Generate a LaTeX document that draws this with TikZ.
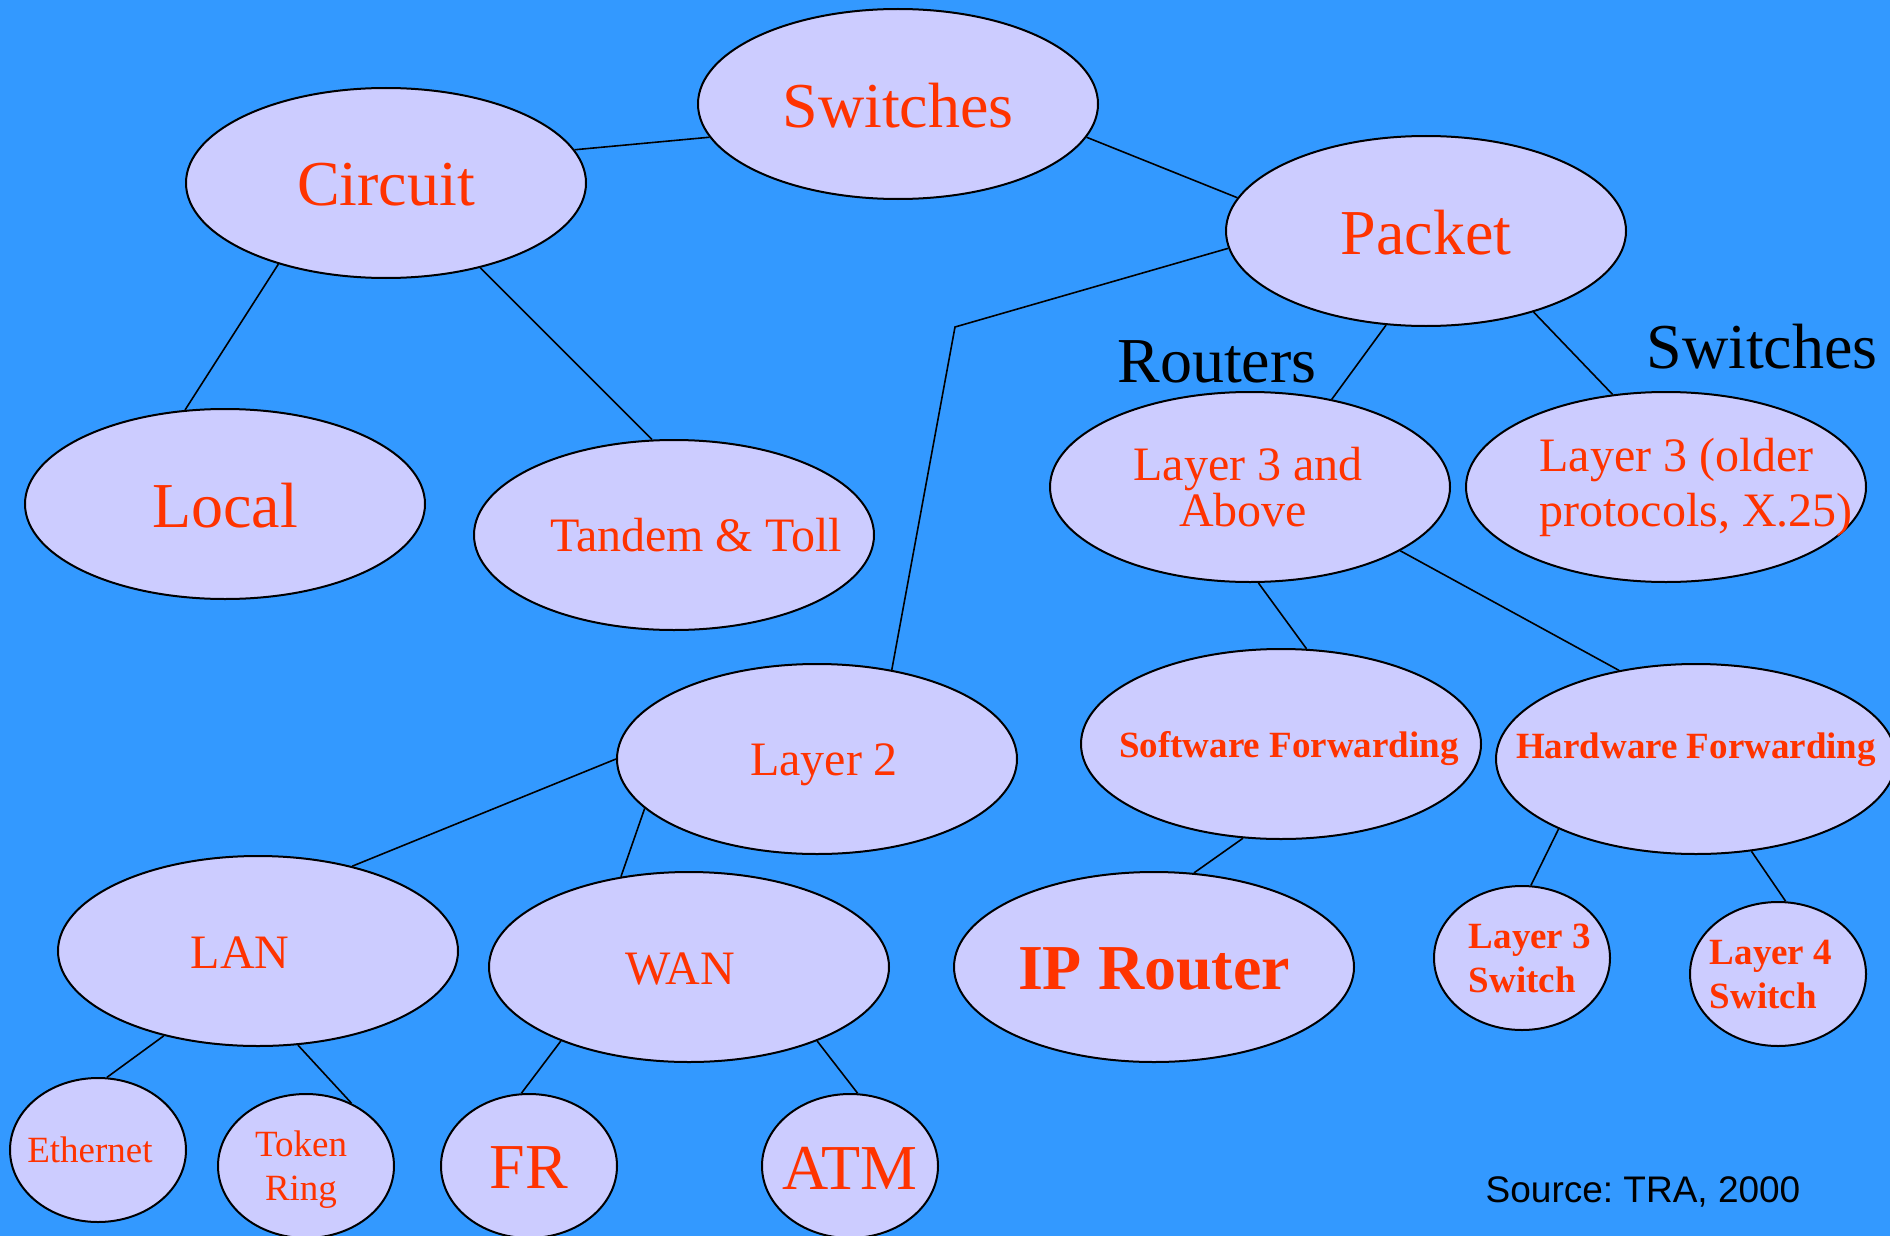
\documentclass[tikz,border=0pt]{standalone}
\usepackage{fontspec}
\setmainfont{Liberation Serif}
\newfontfamily\arialfont{Liberation Sans}
\usetikzlibrary{shapes.geometric}
\definecolor{slidebg}{HTML}{3399FF}
\definecolor{ovalfill}{HTML}{CCCCFF}
\definecolor{txtred}{HTML}{FF3300}

\begin{document}
\begin{tikzpicture}[
    x=0.5pt, y=-0.5pt,
    bigoval/.style={
        ellipse,
        draw=black,
        line width=1pt,
        fill=ovalfill,
        inner sep=0pt,
        minimum width=200pt,
        minimum height=95pt
    },
    smalloval/.style={bigoval, minimum width=88pt, minimum height=72pt},
    bigtxt/.style={text=txtred, font=\fontsize{32}{34}\selectfont},
    midtxt/.style={text=txtred, font=\fontsize{24}{21}\selectfont},
    smalltxt/.style={text=txtred, font=\fontsize{18.5}{22}\selectfont, align=left},
    link/.style={line width=0.8pt}
]
\useasboundingbox (0,0) rectangle (1890,1236);
\fill[slidebg] (0,0) rectangle (1890,1236);

% top levels
\node[bigoval, label={[bigtxt,yshift=-1pt]center:Switches}] (switches) at (898,104) {};
\node[bigoval, label={[bigtxt,yshift=-1pt]center:Circuit}] (circuit) at (386,183) {};
\node[bigoval, label={[bigtxt,yshift=-1pt]center:Packet}] (packet) at (1426,231) {};
\node[bigoval, label={[bigtxt,yshift=-1pt]center:Local}] (local) at (225,504) {};
\node[bigoval, label={[midtxt,xshift=11pt]center:Tandem \& Toll}] (tandem) at (674,535) {};
\node[bigoval, label={[midtxt,align=center,xshift=-1pt]center:Layer 3 and\\\hspace*{-5pt}Above}] (l3above) at (1250,487) {};
\node[bigoval, label={[midtxt,align=left,xshift=15pt,font=\fontsize{24}{27.5}\selectfont]center:Layer 3 (older\\protocols, X.25)}] (l3older) at (1666,487) {};

% middle row
\node[bigoval, label={[midtxt,xshift=3.5pt,yshift=-3pt]center:Layer 2}] (layer2) at (817,759) {};
\node[bigoval, label={[smalltxt,xshift=4pt,yshift=-2.5pt,font=\bfseries\fontsize{18.5}{22}\selectfont]center:Software Forwarding}] (swfwd) at (1281,744) {};
\node[bigoval, label={[smalltxt,yshift=4.5pt,font=\bfseries\fontsize{18.5}{22}\selectfont]center:Hardware Forwarding}] (hwfwd) at (1696,759) {};

% lower row
\node[bigoval, label={[midtxt,xshift=-9pt,yshift=-1pt]center:LAN}] (lan) at (258,951) {};
\node[bigoval, label={[midtxt,xshift=-4.5pt,yshift=-1pt]center:WAN}] (wan) at (689,967) {};
\node[bigoval, label={[bigtxt,yshift=-1pt,font=\bfseries\fontsize{32}{34}\selectfont]center:IP Router}] (iprouter) at (1154,967) {};
\node[smalloval, label={[smalltxt,xshift=4pt,font=\bfseries\fontsize{18.5}{22}\selectfont]center:Layer 3\\Switch}] (l3switch) at (1522,958) {};
\node[smalloval, label={[smalltxt,xshift=-3.5pt,font=\bfseries\fontsize{18.5}{22}\selectfont]center:Layer 4\\Switch}] (l4switch) at (1778,974) {};

% leaves
\node[smalloval, label={[smalltxt,xshift=-4pt]center:Ethernet}] (ethernet) at (98,1150) {};
\node[smalloval, label={[smalltxt,align=center,xshift=-2.5pt,yshift=-2pt]center:Token\\Ring}] (tokenring) at (306,1166) {};
\node[smalloval, label={[bigtxt,yshift=-1pt]center:FR}] (fr) at (529,1166) {};
\node[smalloval, label={[bigtxt,yshift=-1pt]center:ATM}] (atm) at (850,1166) {};

% black captions
\node[font=\fontsize{32}{34}\selectfont] (routerscap) at (1217,362) {Routers};
\node[font=\fontsize{32}{34}\selectfont] (switchescap) at (1762,347) {Switches};
\node[font=\arialfont\fontsize{18.5}{22}\selectfont] (source) at (1643,1192) {Source:\ TRA, 2000};

\coordinate (bend) at (955,327);

\draw[link] (switches.190) -- (circuit.10);
\draw[link] (switches.350) -- (packet.170);
\draw[link] (circuit.217) -- (local.113);
\draw[link] (circuit.318) -- (tandem.103);
\draw[link] (packet.185) -- (bend) -- (layer2.50);
\draw[link] (packet.247) -- (l3above.47);
\draw[link] (packet.323) -- (l3older.120);
\draw[link] (l3above.275) -- (swfwd.75);
\draw[link] (l3above.337) -- (hwfwd.131);
\draw[link] (layer2.180) -- (lan.42);
\draw[link] (layer2.196) -- (wan.127);
\draw[link] (swfwd.248) -- (iprouter.67);
\draw[link] (hwfwd.207) -- (l3switch.83);
\draw[link] (hwfwd.301) -- (l4switch.84);
\draw[link] (lan.222) -- (ethernet.83);
\draw[link] (lan.293) -- (tokenring.54);
\draw[link] (wan.210) -- (fr.96);
\draw[link] (wan.330) -- (atm.84);
\end{tikzpicture}
\end{document}
